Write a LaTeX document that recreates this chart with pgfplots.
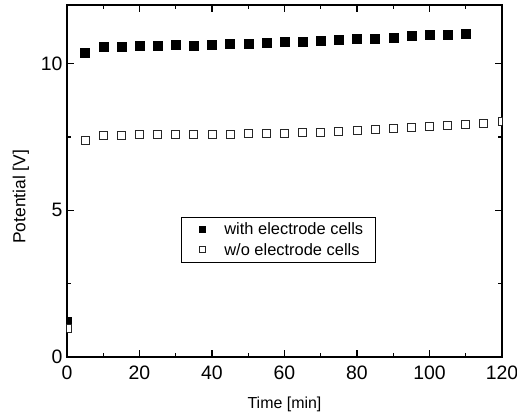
\documentclass[border=0pt]{standalone}
\usepackage{fontspec}
\setmainfont{Liberation Sans}
\usepackage{pgfplots}
\pgfplotsset{compat=1.18}
\begin{document}
\begin{tikzpicture}
\path[use as bounding box] (-67bp,-62bp) rectangle (450bp,357bp);
\begin{axis}[
  at={(0,0)}, anchor=south west,
  scale only axis, width=435bp, height=352bp,
  xmin=0, xmax=120, ymin=0, ymax=12,
  xtick={0,20,...,120}, minor xtick={10,30,...,110},
  ytick={0,5,10}, minor ytick={2.5,7.5},
  tick align=inside,
  major tick length=7bp, minor tick length=4bp,
  axis line style={line width=1.6bp},
  every tick/.style={black, line width=1.4bp},
  /pgf/number format/assume math mode=true,
  ticklabel style={font=\fontsize{19.5}{22}\selectfont},
  xticklabel style={yshift=-5bp},
  yticklabel style={xshift=-1bp},
  xlabel={Time [min]}, ylabel={Potential [V]},
  xlabel style={font=\fontsize{16}{18}\selectfont, at={(axis description cs:0.5,-0.136)}, anchor=center},
  ylabel style={font=\fontsize{17.5}{20}\selectfont, at={(axis description cs:-0.106,0.455)}, anchor=center},
  legend style={at={(0.262,0.398)}, anchor=north west, draw=black, line width=0.8bp,
    nodes={font=\fontsize{16.5}{18}\selectfont}, inner xsep=10bp, inner ysep=3.5bp, row sep=3bp},
  legend cell align=left,
  legend image code/.code={%
    \path[draw=none, fill=none] (0bp,-3bp) rectangle (31bp,3bp);
    \draw[#1, mark size=3bp] plot coordinates {(11bp,0bp)};},
  clip marker paths=true,
]
\addplot[only marks, mark=square*, mark size=4.5bp, mark options={fill=black, draw=black}] coordinates {
(0,1.22) (5,10.39) (10,10.59) (15,10.58) (20,10.61) (25,10.60) (30,10.63) (35,10.61)
(40,10.65) (45,10.67) (50,10.69) (55,10.73) (60,10.75) (65,10.76) (70,10.78) (75,10.81)
(80,10.85) (85,10.86) (90,10.89) (95,10.94) (100,10.98) (105,10.98) (110,11.01)
};
\addlegendentry{with electrode cells}
\addplot[only marks, mark=square*, mark size=4bp, mark options={fill=white, draw=black!85, line width=0.9bp}] coordinates {
(0,0.99) (5,7.38) (10,7.54) (15,7.54) (20,7.57) (25,7.57) (30,7.57) (35,7.57)
(40,7.58) (45,7.59) (50,7.61) (55,7.62) (60,7.63) (65,7.65) (70,7.67) (75,7.68)
(80,7.71) (85,7.75) (90,7.78) (95,7.81) (100,7.86) (105,7.89) (110,7.93) (115,7.97) (120,8.03)
};
\addlegendentry{w/o electrode cells}
\end{axis}
\end{tikzpicture}
\end{document}
